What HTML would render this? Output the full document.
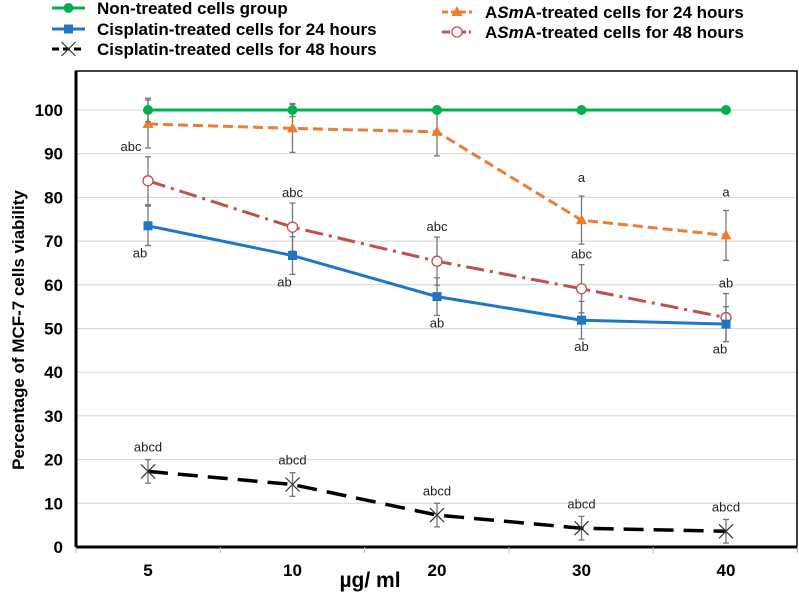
<!DOCTYPE html>
<html><head><meta charset="utf-8"><style>
body{margin:0;background:#fff;width:799px;height:592px;overflow:hidden;font-family:"Liberation Sans",sans-serif}
</style></head><body>
<svg id="chart" width="799" height="592" xmlns="http://www.w3.org/2000/svg" font-family="Liberation Sans, sans-serif"></svg>
<script>
const categories=["5","10","20","30","40"];
const yTicks=[0,10,20,30,40,50,60,70,80,90,100];
const nonTreated=[100,100,100,100,100];
const nonTreatedErr=[2.7,1.5,0,0,0];
const cis24=[73.5,66.7,57.3,51.9,51.0];
const cis24Err=[4.5,4.3,4.3,4.3,4.0];
const cis48=[17.3,14.3,7.3,4.3,3.6];
const cis48Err=[2.7,2.7,2.7,2.7,2.7];
const asma24=[96.8,95.8,95.0,74.8,71.3];
const asma24Err=[5.5,5.5,5.5,5.5,5.7];
const asma48=[83.8,73.2,65.4,59.1,52.5];
const asma48Err=[5.5,5.5,5.5,5.5,5.5];
const asma48Lbl=["abc","abc","abc","abc","ab"];
const asma24Lbl=["","","","a","a"];
const cis24Lbl=["ab","ab","ab","ab","ab"];
const cis48Lbl=["abcd","abcd","abcd","abcd","abcd"];

const svg=document.getElementById('chart');
const NS='http://www.w3.org/2000/svg';
const L=76,R=797,T=71,B=547;
const xs=i=>148+i*144.5;
const ys=v=>B-(v/100)*(B-110);
function el(tag,attrs,parent){const e=document.createElementNS(NS,tag);for(const k in attrs)e.setAttribute(k,attrs[k]);(parent||svg).appendChild(e);return e;}
function txt(x,y,s,attrs){const t=el('text',Object.assign({x:x,y:y},attrs));t.textContent=s;return t;}

yTicks.forEach(v=>{
 if(v>0){const g=el('line',{x1:L,x2:R,y1:ys(v),y2:ys(v),stroke:'#d4d4d4','stroke-width':1});
 
 }
 const t=txt(63,ys(v)+6,String(v),{'text-anchor':'end','font-size':17,'font-weight':'bold'});
 
 
});
const frame=el('rect',{x:L,y:T,width:R-L,height:B-T,fill:'none',stroke:'#000','stroke-width':1.5});


const yax=el('line',{x1:L,x2:L,y1:T,y2:B,stroke:'#000','stroke-width':3});


const xax=el('line',{x1:L,x2:R,y1:B,y2:B,stroke:'#000','stroke-width':3});


for(let i=0;i<=categories.length;i++){const tk=el('line',{x1:L+i*144.3,x2:L+i*144.3,y1:B,y2:B+6,stroke:'#bbb'});
 
 }
categories.forEach((c,i)=>{const t=txt(xs(i),B+29,c,{'text-anchor':'middle','font-size':17,'font-weight':'bold'});
 
 });
const xt=txt(370,587,'µg/ ml',{'text-anchor':'middle','font-size':21,'font-weight':'bold'});


const yt=txt(0,0,'Percentage of MCF-7 cells viability',{'text-anchor':'middle','font-size':17,'font-weight':'bold',transform:'translate(24,330) rotate(-90)'});



function errs(vals,err,name){vals.forEach((v,i)=>{if(!err[i])return;const x=xs(i);
 const g=el('g',{stroke:'#777','stroke-width':1.3});
 
 
 el('line',{x1:x,x2:x,y1:ys(v+err[i]),y2:ys(v-err[i])},g);
 el('line',{x1:x-3,x2:x+3,y1:ys(v+err[i]),y2:ys(v+err[i])},g);
 el('line',{x1:x-3,x2:x+3,y1:ys(v-err[i]),y2:ys(v-err[i])},g);});}
function line(vals,color,dash,width,name){const p=el('polyline',{points:vals.map((v,i)=>xs(i)+','+ys(v)).join(' '),fill:'none',stroke:color,'stroke-width':width,'stroke-dasharray':dash});
 
 }
function marker(type,x,y,color,name){let m;
 if(type==='circle')m=el('circle',{cx:x,cy:y,r:5,fill:color});
 else if(type==='open')m=el('circle',{cx:x,cy:y,r:5,fill:'#fff',stroke:color,'stroke-width':1.3});
 else if(type==='square')m=el('rect',{x:x-4.5,y:y-4.5,width:9,height:9,fill:color});
 else if(type==='tri')m=el('polygon',{points:`${x},${y-6} ${x+5.5},${y+4} ${x-5.5},${y+4}`,fill:color});
 else m=el('path',{d:`M${x-7},${y-7}L${x+7},${y+7}M${x+7},${y-7}L${x-7},${y+7}`,stroke:'#333','stroke-width':1.2,fill:'none'});
 
 }
function series(vals,err,color,dash,width,mk,name){errs(vals,err,name);line(vals,color,dash,width,name);vals.forEach((v,i)=>marker(mk,xs(i),ys(v),color,name+'-point-'+categories[i]));}
series(cis48,cis48Err,'#000','20 10',3.5,'x','cisplatin-48h');
series(asma48,asma48Err,'#c0504d','18 6 3 6',3,'open','asma-48h');
series(cis24,cis24Err,'#1f77c4','',3,'square','cisplatin-24h');
series(asma24,asma24Err,'#ed7d31','10 5',3,'tri','asma-24h');
series(nonTreated,nonTreatedErr,'#00b050','',3,'circle','non-treated');

function labelsAbove(vals,err,lbl,name,gap,dx){lbl.forEach((s,i)=>{if(!s)return;const t=txt(xs(i)+(dx?dx[i]:0),ys(vals[i]+err[i])-gap,s,{'text-anchor':'middle','font-size':13,fill:'#222'});
 
 });}
function labelsBelow(vals,err,lbl,name,gap,dx){lbl.forEach((s,i)=>{if(!s)return;const t=txt(xs(i)+(dx?dx[i]:0),ys(vals[i]-err[i])+gap,s,{'text-anchor':'middle','font-size':13,fill:'#222'});
 
 });}
labelsAbove(asma48,asma48Err,asma48Lbl,'asma-48h',6,[-17,0,0,0,0]);
labelsAbove(asma24,asma24Err,asma24Lbl,'asma-24h',14);
labelsBelow(cis24,cis24Err,cis24Lbl,'cisplatin-24h',12,[-8,-8,0,0,-6]);
labelsAbove(cis48,cis48Err,cis48Lbl,'cisplatin-48h',8);

const leg=[[52,8,'#00b050','','circle','Non-treated cells group'],[52,29,'#1f77c4','','square','Cisplatin-treated cells for 24 hours'],[52,49,'#000','7 4','x','Cisplatin-treated cells for 48 hours'],
 [442,12,'#ed7d31','6 3','tri','ASmA-treated cells for 24 hours'],[442,32,'#c0504d','8 3 2 3','open','ASmA-treated cells for 48 hours']];
leg.forEach((l,k)=>{const g=el('g',{});
 
 
 const w=k<3?33:30;
 el('line',{x1:l[0],x2:l[0]+w,y1:l[1],y2:l[1],stroke:l[2],'stroke-width':3,'stroke-dasharray':l[3]},g);
 marker(l[4],l[0]+w/2,l[1],l[2],'legend-marker-'+(k+1));
 const t=el('text',{x:k<3?97:485,y:l[1]+6,'font-size':17,'font-weight':'bold'},g);
 if(l[5].startsWith('ASmA')){t.innerHTML='A<tspan font-style="italic">Sm</tspan>A'+l[5].slice(4);}else t.textContent=l[5];
});
</script>
</body></html>
